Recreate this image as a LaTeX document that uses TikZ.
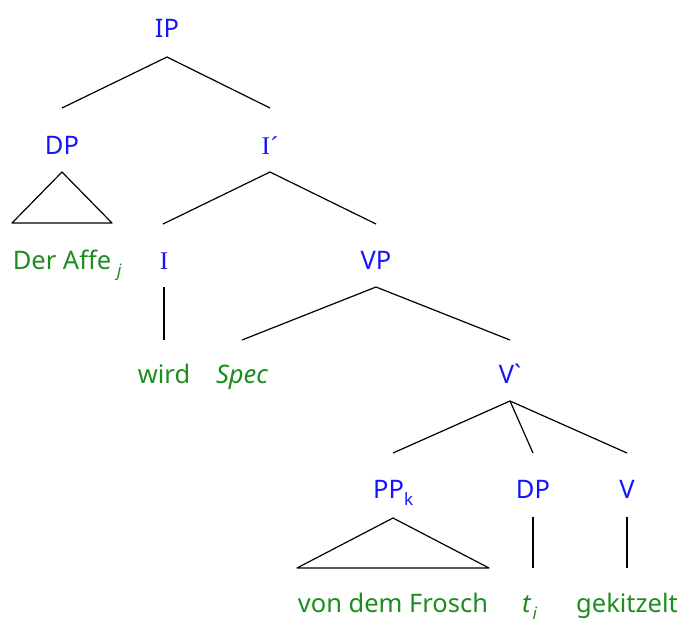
\documentclass[tikz,border=0pt]{standalone}
\usepackage{fontspec}
\setmainfont{Noto Sans}
\newfontfamily\serifI{Liberation Serif}
\definecolor{catblue}{RGB}{20,20,255}
\definecolor{wordgreen}{RGB}{30,140,30}
\newcommand{\lowidx}[1]{\raisebox{-7pt}{\fontsize{17}{20}\selectfont #1}}
\begin{document}
\begin{tikzpicture}[x=1pt,y=-1pt,
  lbl/.style={font=\fontsize{25.5}{30}\selectfont,inner sep=0pt,anchor=base},
  cat/.style={lbl,text=catblue},
  word/.style={lbl,text=wordgreen},
  edge/.style={draw=black,line width=1.2pt}]
\useasboundingbox (0,0) rectangle (679,619);

% labels (placed on their baselines)
\node[cat] (ip) at (167,37) {IP};
\node[cat] (dp1) at (62,154) {DP};
\node[cat] (ibar) at (270,154) {\serifI I\symbol{"B4}};
\node[cat] (i) at (164,269) {\serifI I};
\node[cat] (vp) at (376,269) {VP};
\node[word] (affe) at (62,269) {Der Affe};
\node[word,anchor=base west] (j) at (117,276) {\fontsize{17}{20}\selectfont\itshape j};
\node[word] (wird) at (164,383) {wird};
\node[word] (spec) at (242,383) {\itshape Spec};
\node[cat] (vbar) at (510,383) {Vˋ};
\node[cat,anchor=base west] (pp) at (373,498) {PP\lowidx{k}};
\node[cat] (dp2) at (533,498) {DP};
\node[cat] (v) at (627,498) {V};
\node[word] (frosch) at (393,612) {von dem Frosch};
\node[word,anchor=base west] (ti) at (522,612) {\itshape t\kern2pt\lowidx{i}};
\node[word] (gek) at (627,612) {gekitzelt};

% branch points
\coordinate (ipb) at (167,57);
\coordinate (ipl) at (62,108);
\coordinate (ipr) at (270,108);
\coordinate (ibb) at (270,172);
\coordinate (ibl) at (163,224);
\coordinate (ibr) at (376,224);
\coordinate (ib) at (164,287);
\coordinate (ie) at (164,340);
\coordinate (vpb) at (376,287);
\coordinate (vpl) at (242,340);
\coordinate (vpr) at (510,340);
\coordinate (vbb) at (510,401);
\coordinate (vbl) at (393,453);
\coordinate (vbm) at (533,453);
\coordinate (vbr) at (627,453);
\coordinate (dpb) at (533,517);
\coordinate (dpe) at (533,568);
\coordinate (vb) at (627,517);
\coordinate (ve) at (627,568);

% edges
\draw[edge] (ipl) -- (ipb) -- (ipr);
\draw[edge] (ibl) -- (ibb) -- (ibr);
\draw[edge] (ib) -- (ie);
\draw[edge] (vpl) -- (vpb) -- (vpr);
\draw[edge] (vbl) -- (vbb) -- (vbr);
\draw[edge] (vbb) -- (vbm);
\draw[edge] (dpb) -- (dpe);
\draw[edge] (vb) -- (ve);

% triangles
\draw[edge,line join=round] (62,172) -- (12,223) -- (112,223) -- cycle;
\draw[edge,line join=round] (393,518) -- (297,568) -- (489,568) -- cycle;
\end{tikzpicture}
\end{document}
